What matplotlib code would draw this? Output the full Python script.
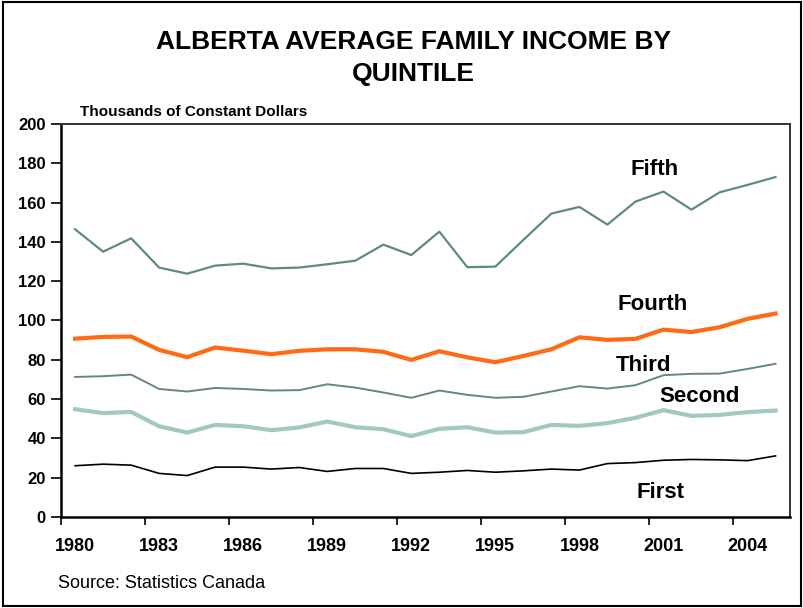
import matplotlib
matplotlib.use("Agg")
import matplotlib.pyplot as plt
from matplotlib.patches import Rectangle

plt.rcParams['font.family'] = ['Liberation Sans', 'DejaVu Sans']

# values (thousands of constant dollars)
years = list(range(1980, 2006))
fifth = [146.4, 135.0, 141.8, 126.9, 123.8, 127.9, 128.9, 126.5, 126.9, 128.6,
         130.4, 138.6, 133.3, 145.2, 127.1, 127.4, 141.0, 154.4, 157.8, 148.8,
         160.5, 165.6, 156.4, 165.2, 169.0, 173.0]
fourth = [90.7, 91.6, 91.8, 85.0, 81.3, 86.2, 84.6, 82.8, 84.5, 85.3,
          85.3, 84.0, 79.9, 84.3, 81.2, 78.7, 81.9, 85.3, 91.4, 90.1,
          90.6, 95.3, 94.1, 96.5, 100.8, 103.5]
third = [71.2, 71.6, 72.4, 65.1, 63.8, 65.6, 65.1, 64.3, 64.5, 67.5,
         65.8, 63.3, 60.6, 64.3, 62.1, 60.6, 61.1, 63.8, 66.5, 65.3,
         67.0, 72.1, 72.8, 72.9, 75.3, 77.9]
second = [54.8, 52.8, 53.4, 46.1, 42.9, 46.8, 46.1, 44.1, 45.5, 48.5,
          45.6, 44.6, 41.1, 44.8, 45.6, 42.9, 43.1, 46.8, 46.3, 47.7,
          50.4, 54.3, 51.4, 51.9, 53.3, 54.1]
first = [26.0, 26.8, 26.3, 22.1, 21.0, 25.3, 25.3, 24.3, 25.1, 23.1,
         24.6, 24.6, 22.1, 22.7, 23.6, 22.7, 23.4, 24.3, 23.8, 27.1,
         27.6, 28.8, 29.2, 29.0, 28.6, 31.0]

label_years = years[::3]
y_ticks = list(range(0, 201, 20))

fig = plt.figure(figsize=(8.04, 6.08), dpi=100)
ax = fig.add_axes([0.076, 0.150, 0.906, 0.646])

# --- series ---
ax.plot(years, fifth, color='#5e8c7c', lw=1.6)
ax.plot(years, fourth, color='#ff6a13', lw=3.0)
ax.plot(years, third, color='#66877f', lw=1.4)
ax.plot(years, second, color='#a3c8be', lw=3.0)
ax.plot(years, first, color='black', lw=1.2)

# series labels
lab = dict(fontsize=16, fontweight='bold', ha='center', va='center')
ax.text(2000.7, 177, 'Fifth', **lab)
ax.text(2000.6, 108.2, 'Fourth', **lab)
ax.text(2000.3, 77.2, 'Third', **lab)
ax.text(2002.3, 61.2, 'Second', **lab)
ax.text(2000.9, 12.5, 'First', **lab)

# --- axes ---
ax.set_xlim(1979.5, 2005.5)
ax.set_ylim(0, 200)
ax.set_yticks(y_ticks)
ax.set_yticklabels([str(v) for v in y_ticks], fontsize=12, fontweight='bold')
# tick marks sit between categories, labels on the categories
ax.set_xticks([y - 0.5 for y in label_years])
ax.set_xticklabels([])
ax.set_xticks(label_years, minor=True)
ax.set_xticklabels([str(y) for y in label_years], minor=True,
                   fontsize=13, fontweight='bold')
ax.tick_params(axis='x', which='major', direction='out', length=6, width=1.2)
ax.tick_params(axis='x', which='minor', length=0, pad=15)
ax.tick_params(axis='y', direction='out', length=7, width=1.2, pad=4)

for side in ['left', 'bottom']:
    ax.spines[side].set_linewidth(1.8)
    ax.spines[side].set_color('black')
for side in ['top', 'right']:
    ax.spines[side].set_linewidth(1.4)
    ax.spines[side].set_color('#333333')

# --- text ---
fig.text(0.514, 0.905, 'ALBERTA AVERAGE FAMILY INCOME BY\nQUINTILE',
         ha='center', va='center', fontsize=19, fontweight='bold',
         linespacing=1.4)
fig.text(0.099, 0.809, 'Thousands of Constant Dollars', fontsize=11,
         fontweight='bold', ha='left', va='baseline')
fig.text(0.072, 0.041, 'Source: Statistics Canada', fontsize=13,
         ha='left', va='center')

# outer frame round the whole chart
fig.patches.append(Rectangle((0.004, 0.004), 0.992, 0.992, transform=fig.transFigure,
                             fill=False, edgecolor='black', lw=1.5))

fig.savefig('out.png', dpi=100)
